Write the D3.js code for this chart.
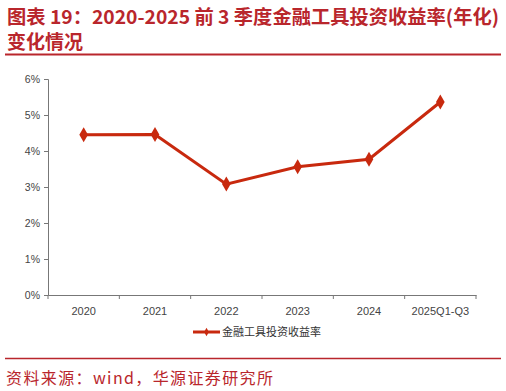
<!DOCTYPE html>
<html>
<head>
<meta charset="utf-8">
<script src="https://cdn.jsdelivr.net/npm/d3@7"></script>
<style>
body { margin: 0; background: #fff; }
</style>
</head>
<body>
<div id="chart"></div>
<script>
const categories = ["2020", "2021", "2022", "2023", "2024", "2025Q1-Q3"];
const values = [4.45, 4.46, 3.08, 3.56, 3.77, 5.36];
const yTicks = [0, 1, 2, 3, 4, 5, 6];
const seriesName = "金融工具投资收益率";

const svgWidth = 506;
const svgHeight = 391;
const margin = { top: 79, right: 30, bottom: 96, left: 48 };
const chartWidth = svgWidth - margin.left - margin.right;
const chartHeight = svgHeight - margin.top - margin.bottom;

const svg = d3.select("#chart")
    .append("svg")
    .attr("width", svgWidth)
    .attr("height", svgHeight);

const red = "#b9262c";

// title
svg.append("text")
    .attr("x", 7).attr("y", 24)
    .attr("textLength", 492)
    .attr("lengthAdjust", "spacingAndGlyphs")
    .style("font-family", "'Noto Sans CJK SC'")
    .style("font-size", "19px")
    .style("font-weight", "bold")
    .style("fill", red)
    .text("图表 19：2020-2025 前 3 季度金融工具投资收益率(年化)");
svg.append("text")
    .attr("x", 7).attr("y", 49)
    .style("font-family", "'Noto Sans CJK SC'")
    .style("font-size", "19px")
    .style("font-weight", "bold")
    .style("fill", red)
    .text("变化情况");

svg.append("line")
    .attr("x1", 5).attr("x2", 501)
    .attr("y1", 54.5).attr("y2", 54.5)
    .attr("stroke", red).attr("stroke-width", 2);

svg.append("line")
    .attr("x1", 5).attr("x2", 501)
    .attr("y1", 358.5).attr("y2", 358.5)
    .attr("stroke", red).attr("stroke-width", 1.5);

svg.append("text")
    .attr("x", 6).attr("y", 384)
    .attr("textLength", 267)
    .attr("lengthAdjust", "spacing")
    .style("font-family", "'Noto Sans CJK SC'")
    .style("font-size", "16px")
    .style("fill", red)
    .text("资料来源：wind，华源证券研究所");

const chart = svg.append("g")
    .attr("transform", `translate(${margin.left},${margin.top})`);

const xScale = d3.scaleBand()
    .domain(categories)
    .range([0, chartWidth]);

const yScale = d3.scaleLinear()
    .domain([0, 6])
    .range([chartHeight, 0]);

// y axis
const yAxis = chart.append("g")
    .call(d3.axisLeft(yScale).tickValues(yTicks).tickSize(4).tickFormat(d => d + "%"));
yAxis.select(".domain").attr("stroke", "#777");
yAxis.selectAll(".tick line").attr("stroke", "#777");
yAxis.selectAll("text")
    .attr("x", -8)
    .style("font-family", "Liberation Sans, Arial")
    .style("font-size", "10.5px")
    .style("fill", "#444");

// x axis
const xAxis = chart.append("g")
    .attr("transform", `translate(0,${chartHeight})`)
    .call(d3.axisBottom(xScale).tickSize(0).tickSizeOuter(0));
xAxis.select(".domain").attr("stroke", "#777");
xAxis.selectAll("text")
    .attr("dy", "1.55em")
    .style("font-family", "Liberation Sans, Arial")
    .style("font-size", "11px")
    .style("fill", "#444");
xAxis.selectAll(".sep")
    .data(d3.range(categories.length + 1))
    .enter()
    .append("line")
    .attr("x1", i => i * xScale.step())
    .attr("x2", i => i * xScale.step())
    .attr("y1", 0).attr("y2", 4)
    .attr("stroke", "#777");

const line = d3.line()
    .x((d, i) => xScale(categories[i]) + xScale.bandwidth() / 2)
    .y(d => yScale(d));

const lineColor = "#c8290e";

chart.append("path")
    .datum(values)
    .attr("d", line)
    .attr("fill", "none")
    .attr("stroke", lineColor)
    .attr("stroke-width", 3);

const diamond = d3.symbol().type(d3.symbolDiamond).size(65);

chart.selectAll(".pt")
    .data(values)
    .enter()
    .append("path")
    .attr("class", "pt")
    .attr("d", diamond)
    .attr("transform", (d, i) => `translate(${xScale(categories[i]) + xScale.bandwidth() / 2},${yScale(d)})`)
    .attr("fill", lineColor);

// legend
const legend = svg.append("g")
    .attr("transform", "translate(193,332)");
legend.append("line")
    .attr("x1", 0).attr("x2", 27)
    .attr("stroke", lineColor)
    .attr("stroke-width", 3);
legend.append("path")
    .attr("d", d3.symbol().type(d3.symbolDiamond).size(20))
    .attr("transform", "translate(13.5,0)")
    .attr("fill", lineColor);
legend.append("text")
    .attr("x", 29)
    .attr("dy", "0.35em")
    .style("font-family", "'Noto Sans CJK SC'")
    .style("font-size", "11px")
    .style("fill", "#333")
    .text(seriesName);
</script>
</body>
</html>
